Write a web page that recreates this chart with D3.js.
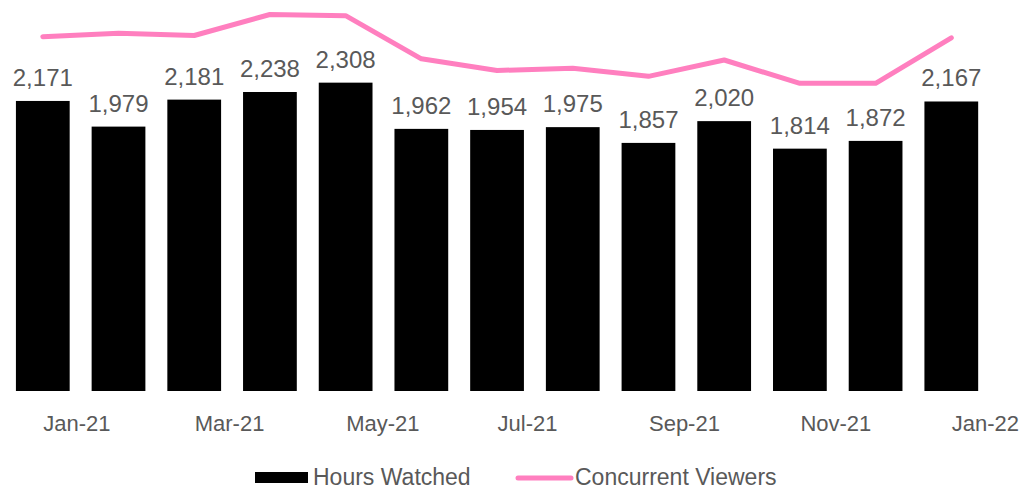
<!DOCTYPE html>
<html>
<head>
<meta charset="utf-8">
<script src="https://cdn.jsdelivr.net/npm/d3@7"></script>
<style>
  body { margin: 0; background: #fff; }
  text { font-family: "Liberation Sans", Arial, sans-serif; fill: #595959; }
</style>
</head>
<body>
<svg id="chart"></svg>
<script>
// données
const months = ["Jan-21","Feb-21","Mar-21","Apr-21","May-21","Jun-21","Jul-21",
                "Aug-21","Sep-21","Oct-21","Nov-21","Dec-21","Jan-22"];
const hoursWatched = [2171, 1979, 2181, 2238, 2308, 1962, 1954, 1975, 1857, 2020, 1814, 1872, 2167];
// concurrent viewers (millions), axe secondaire
const concurrentViewers = [2.92, 2.95, 2.93, 3.11, 3.10, 2.73, 2.63, 2.65, 2.58, 2.72, 2.52, 2.52, 2.91];
const tickLabels = ["Jan-21","Mar-21","May-21","Jul-21","Sep-21","Nov-21","Jan-22"];

const width = 1026, height = 489;

const svg = d3.select("#chart")
  .attr("width", width)
  .attr("height", height);

// échelles
const x = d3.scalePoint().domain(months).range([42.8, 951.3]);
const barW = x.step() * 0.71;

const y = d3.scaleLinear().domain([0, 2500]).range([391, 391 - 2500 * 0.1336]);
const y2 = d3.scaleLinear().domain([2.0, 3.5]).range([144, -31]);

// barres
svg.append("g").selectAll("rect")
  .data(hoursWatched)
  .join("rect")
  .attr("x", (d, i) => x(months[i]) - barW / 2)
  .attr("y", d => y(d))
  .attr("width", barW)
  .attr("height", d => y(0) - y(d))
  .attr("fill", "#000");

// étiquettes
svg.append("g").selectAll("text")
  .data(hoursWatched)
  .join("text")
  .attr("x", (d, i) => x(months[i]))
  .attr("y", d => y(d) - 15)
  .attr("text-anchor", "middle")
  .style("font-size", "24px")
  .text(d => d3.format(",")(d));

// ligne
const line = d3.line()
  .x((d, i) => x(months[i]))
  .y(d => y2(d));

svg.append("path")
  .datum(concurrentViewers)
  .attr("d", line)
  .attr("fill", "none")
  .attr("stroke", "#FF7FBF")
  .attr("stroke-width", 5)
  .attr("stroke-linecap", "round")
  .attr("stroke-linejoin", "round");

// axe x
const xAxis = d3.axisBottom(x)
  .tickValues(tickLabels)
  .tickSize(0)
  .tickPadding(0);

const gx = svg.append("g")
  .attr("transform", "translate(0,431)")
  .call(xAxis);
gx.select(".domain").remove();
gx.selectAll("text")
  .attr("y", 0)
  .attr("dy", 0)
  .attr("text-anchor", "start")
  .style("font-size", "22px")
  .attr("font-family", null)
  .attr("fill", null);

// légende
const legend = svg.append("g");
legend.append("rect")
  .attr("x", 255).attr("y", 472)
  .attr("width", 53).attr("height", 11)
  .attr("fill", "#000");
legend.append("text")
  .attr("x", 313).attr("y", 485)
  .style("font-size", "23px")
  .text("Hours Watched");
legend.append("line")
  .attr("x1", 518).attr("x2", 571)
  .attr("y1", 478).attr("y2", 478)
  .attr("stroke", "#FF7FBF")
  .attr("stroke-width", 5)
  .attr("stroke-linecap", "round");
legend.append("text")
  .attr("x", 575).attr("y", 485)
  .style("font-size", "23px")
  .text("Concurrent Viewers");
</script>
</body>
</html>
